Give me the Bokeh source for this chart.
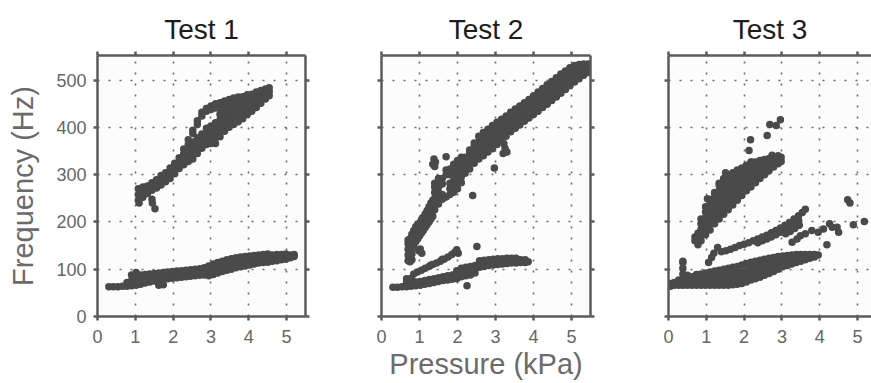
from bokeh.plotting import figure
from bokeh.layouts import row
from bokeh.models import LinearAxis, Range1d, FixedTicker
from bokeh.embed import file_html
from bokeh.resources import INLINE

# ---------------------------------------------------------------------------
# Measured frequency vs. pressure, three tests.
# Dense bands are stored column by column: one pressure value per column and
# the list of frequency samples recorded at that pressure.
# ---------------------------------------------------------------------------
titles = ["Test 1", "Test 2", "Test 3"]
x_ticks = [0, 1, 2, 3, 4, 5]
y_ticks = [0, 100, 200, 300, 400, 500]

# Test 1 - low branch
t1_low_px = [0.3, 0.42, 0.54, 0.66, 0.78, 0.9, 1.02, 1.14, 1.26, 1.38, 1.5, 1.62, 1.74, 1.86,
             1.98, 2.1, 2.22, 2.34, 2.46, 2.58, 2.7, 2.82, 2.94, 3.06, 3.18, 3.3, 3.42, 3.54,
             3.66, 3.78, 3.9, 4.02, 4.14, 4.26, 4.38, 4.5, 4.62, 4.74, 4.86, 4.98, 5.1, 5.2]
t1_low_py = [[63], [63], [63], [64], [64, 72], [65, 76, 88], [66, 76, 86, 93], [68, 78, 88],
             [71, 80, 89], [73, 82, 90], [75, 83, 91], [66, 77, 85, 92], [67, 79, 87, 93],
             [80, 88, 94], [81, 89, 95], [82, 90, 96], [83, 91, 97], [84, 92, 98], [85, 93, 99],
             [86, 94, 100], [87, 95, 101], [88, 96, 103], [86, 92, 100, 107], [89, 96, 104, 111],
             [92, 99, 107, 114], [95, 102, 110, 117], [98, 105, 113, 120], [100, 108, 116, 122],
             [103, 110, 118, 124], [105, 112, 120, 126], [107, 114, 122, 127], [109, 116, 123, 128],
             [111, 118, 125, 129], [113, 120, 126, 130], [114, 121, 128, 131], [115, 123, 129, 132],
             [117, 124, 130], [118, 126, 131], [120, 127, 131], [121, 128, 132], [124, 130], [127, 131]]

# Test 1 - high branch
t1_up_px = [1.08, 1.2, 1.32, 1.44, 1.56, 1.68, 1.8, 1.92, 2.04, 2.16, 2.28, 2.4, 2.52, 2.64, 2.76,
            2.88, 3.0, 3.12, 3.24, 3.36, 3.48, 3.6, 3.72, 3.84, 3.96, 4.08, 4.2, 4.32, 4.44, 4.54]
t1_up_py = [[246, 258, 270], [252, 263, 274], [260, 270, 276], [267, 276, 283], [272, 281, 289],
            [278, 288, 298], [285, 295, 304], [292, 303, 314], [302, 312, 324], [313, 323, 336],
            [321, 332, 344, 354], [328, 340, 352, 364, 374], [333, 345, 357, 369, 387, 394],
            [345, 356, 367, 378, 406, 414], [356, 367, 378, 386, 424, 432],
            [364, 376, 388, 398, 434, 440], [366, 378, 390, 403, 438, 445],
            [366, 378, 391, 404, 410, 441, 450], [380, 392, 404, 416, 428, 440, 452],
            [392, 404, 416, 428, 440, 452, 456], [400, 412, 424, 436, 448, 459],
            [406, 418, 430, 442, 454, 462], [412, 424, 436, 448, 460, 464],
            [418, 430, 442, 454, 465], [427, 439, 451, 463, 469], [434, 446, 458, 470],
            [442, 454, 466, 475], [451, 462, 473, 478], [460, 470, 481], [467, 476, 484]]

# Test 1 - isolated samples
t1_dot_x = [1.1, 1.45, 1.52, 1.44]
t1_dot_y = [240, 240, 228, 248]

# Test 2 - low branch
t2_low_px = [0.3, 0.42, 0.54, 0.66, 0.78, 0.9, 1.02, 1.14, 1.26, 1.38, 1.5, 1.62, 1.74, 1.86, 1.98,
             2.1, 2.22, 2.34, 2.46, 2.58, 2.7, 2.82, 2.94, 3.06, 3.18, 3.3, 3.42, 3.54, 3.66, 3.78, 3.86]
t2_low_py = [[62], [62], [63], [63, 72, 80], [64, 73, 81], [65, 73], [66, 74], [68, 76], [70, 78],
             [72, 80], [74, 82], [76, 84], [77, 86], [79, 88], [80, 89, 97], [84, 93, 102],
             [86, 95, 104], [88, 97, 106], [92, 101, 108], [104, 112, 118], [106, 113, 119],
             [108, 115, 120], [109, 116, 121], [110, 117, 122], [111, 118, 122], [112, 118, 123],
             [113, 119, 123], [113, 119, 123], [114, 120], [114, 120], [116]]

# Test 2 - thin intermediate branch
t2_br_x = [0.85, 0.95, 1.05, 1.15, 1.25, 1.3, 1.35, 1.45, 1.55, 1.6, 1.65, 1.75, 1.85, 1.93, 1.98, 2.02]
t2_br_y = [90, 94, 98, 102, 106, 109, 110, 113, 117, 121, 121, 126, 131, 136, 141, 134]

# Test 2 - rising curve into the high branch
t2_curve_px = [0.7, 0.75, 0.8, 0.85, 0.9, 0.95, 1.0, 1.05, 1.1, 1.15, 1.2, 1.25, 1.3, 1.35,
               1.4, 1.5, 1.6, 1.7, 1.8, 1.9, 2.0, 2.1]
t2_curve_py = [[118, 130, 142, 154, 162], [116, 128, 140, 152, 164], [120, 132, 144, 156, 168, 174],
               [150, 162, 174, 182], [158, 170, 182, 190], [164, 175, 186, 194],
               [170, 180, 190, 198], [176, 187, 198, 204], [182, 193, 204, 210],
               [188, 199, 210, 217], [194, 205, 216, 224], [200, 211, 222, 232],
               [206, 218, 230, 240], [212, 224, 236, 246],
               [226, 238, 250, 262, 274, 282], [238, 250, 262, 274, 286, 292], [248, 258, 280, 292],
               [253, 300, 310], [258, 270, 282, 300, 312], [263, 275, 287, 299, 311, 322],
               [270, 282, 294, 306, 318, 330], [283, 295, 307, 319, 331, 337]]

# Test 2 - high branch
t2_main_px = [2.2, 2.32, 2.44, 2.56, 2.68, 2.8, 2.92, 3.04, 3.16, 3.28, 3.4, 3.52, 3.64, 3.76,
              3.88, 4.0, 4.12, 4.24, 4.36, 4.48, 4.6, 4.72, 4.84, 4.96, 5.08, 5.2, 5.32, 5.44]
t2_main_py = [[303, 315, 327, 337], [312, 324, 336, 348, 352], [324, 336, 348, 360, 367],
              [333, 345, 357, 369, 381], [340, 352, 364, 376, 389], [348, 360, 372, 384, 396],
              [355, 367, 379, 391, 404], [364, 376, 388, 400, 411], [372, 384, 396, 408, 417],
              [381, 393, 405, 417, 424], [391, 403, 415, 427, 432], [398, 410, 422, 434, 439],
              [405, 417, 429, 441, 445], [413, 425, 437, 449, 452], [420, 432, 444, 456, 459],
              [427, 439, 451, 463, 467], [434, 446, 458, 470, 475], [442, 454, 466, 478, 482],
              [449, 461, 473, 485, 490], [457, 469, 481, 493, 497], [464, 476, 488, 500, 505],
              [472, 484, 496, 508, 513], [480, 492, 504, 516, 519], [488, 500, 512, 524, 526],
              [496, 508, 520, 531], [503, 515, 527, 533], [510, 522, 534], [516, 528, 534]]

# Test 2 - isolated samples
t2_dot_x = [0.98, 1.06, 1.02, 1.35, 1.38, 1.42, 1.4, 1.7, 2.4, 2.51, 2.25, 2.97, 3.2, 3.25, 3.3, 3.22]
t2_dot_y = [139, 134, 143, 322, 333, 327, 317, 338, 256, 148, 65, 314, 345, 356, 348, 366]

# Test 3 - low branch
t3_low_px = [0.05, 0.15, 0.27, 0.38, 0.5, 0.62, 0.74, 0.86, 0.98, 1.1, 1.22, 1.34, 1.46, 1.58, 1.7,
             1.82, 1.94, 2.06, 2.18, 2.3, 2.42, 2.54, 2.66, 2.78, 2.9, 3.02, 3.14, 3.26, 3.38, 3.5,
             3.62, 3.74, 3.86, 3.96]
t3_low_py = [[64, 70], [66, 72], [66, 77], [66, 78, 90, 102, 114, 117], [66, 78, 87], [66, 76, 84],
             [66, 77, 89], [66, 78, 90], [66, 77, 88, 92], [66, 77, 88, 94], [66, 77, 88, 96],
             [66, 77, 88, 98], [66, 77, 88, 100], [66, 78, 90, 102], [67, 79, 91, 104],
             [68, 80, 92, 106], [70, 82, 94, 109], [73, 85, 97, 112], [77, 89, 101, 115],
             [80, 92, 104, 117], [83, 95, 107, 119], [87, 99, 111, 121], [91, 103, 115, 123],
             [95, 107, 119, 125], [100, 112, 127], [105, 117, 128], [108, 119, 129], [111, 122, 130],
             [114, 124, 131], [117, 126, 131], [120, 128, 131], [123, 131], [126, 131], [130]]

# Test 3 - middle branch
t3_mid_x = [1.06, 1.14, 1.2, 1.3, 1.4, 1.52, 1.64, 1.76, 1.88, 2.0, 2.12, 2.24, 2.36, 2.48, 2.6,
            2.72, 2.84, 2.96, 3.08, 3.2, 3.32, 3.44, 3.54, 3.62,
            2.36, 2.48, 2.6, 2.72, 2.84, 2.96, 3.08, 3.2, 3.32, 3.44, 3.1, 3.22, 3.34, 3.46]
t3_mid_y = [114, 125, 134, 146, 137, 139, 142, 146, 150, 153, 156, 160, 164, 168, 172,
            177, 182, 187, 193, 199, 206, 213, 220, 227,
            156, 160, 164, 168, 173, 178, 184, 190, 196, 203, 175, 180, 186, 193]

# Test 3 - high branch
t3_up_px = [0.7, 0.78, 0.86, 0.98, 1.1, 1.22, 1.34, 1.46, 1.58, 1.7, 1.82, 1.94, 2.06, 2.18,
            2.3, 2.42, 2.54, 2.66, 2.78, 2.9, 2.98]
t3_up_py = [[160, 168], [152, 164, 176], [160, 172, 184, 196, 206], [173, 185, 197, 209, 221, 232],
            [183, 195, 207, 219, 231, 243, 247], [196, 208, 220, 232, 244, 256, 262],
            [206, 218, 230, 242, 254, 266, 278, 282], [216, 228, 240, 252, 264, 276, 288, 292],
            [226, 238, 250, 262, 274, 286, 297], [236, 248, 260, 272, 284, 296, 304],
            [246, 258, 270, 282, 294, 306, 310], [256, 268, 280, 292, 304, 314],
            [266, 278, 290, 302, 314, 320], [274, 286, 298, 310, 322, 327],
            [283, 295, 307, 319, 327], [292, 304, 316, 328, 330], [300, 312, 324, 332],
            [308, 320, 332, 334], [316, 328, 337], [323, 335, 340], [328, 337]]

# Test 3 - isolated samples
t3_dot_x = [3.49, 3.62, 3.79, 3.96, 4.1, 4.26, 4.33, 4.46, 4.5, 4.19, 4.74, 4.8, 4.89, 5.18,
            3.27, 3.4, 2.17, 2.13, 2.2, 2.61, 2.68, 2.85, 2.96, 2.74, 1.51, 1.03]
t3_dot_y = [171, 175, 182, 178, 185, 196, 189, 189, 178, 152, 247, 240, 194, 201,
            157, 164, 374, 351, 327, 383, 406, 404, 416, 341, 304, 249]


def expand(px, py):
    """Flatten column-wise samples into x / y lists."""
    assert len(px) == len(py)
    xs, ys = [], []
    for x, col in zip(px, py):
        xs += [x] * len(col)
        ys += col
    return xs, ys


def gather(columns, singles):
    xs, ys = [], []
    for px, py in columns:
        a, b = expand(px, py)
        xs += a
        ys += b
    for sx, sy in singles:
        assert len(sx) == len(sy)
        xs += sx
        ys += sy
    return xs, ys


t1_x, t1_y = gather([(t1_low_px, t1_low_py), (t1_up_px, t1_up_py)], [(t1_dot_x, t1_dot_y)])
t2_x, t2_y = gather([(t2_low_px, t2_low_py), (t2_curve_px, t2_curve_py), (t2_main_px, t2_main_py)],
                    [(t2_br_x, t2_br_y), (t2_dot_x, t2_dot_y)])
t3_x, t3_y = gather([(t3_low_px, t3_low_py), (t3_up_px, t3_up_py)],
                    [(t3_mid_x, t3_mid_y), (t3_dot_x, t3_dot_y)])

FONT = "Liberation Sans"
FRAME = "#5b5b5b"
DOT = "#4a4a4a"


def style_axis(ax, ticks, labels):
    ax.ticker = FixedTicker(ticks=ticks)
    ax.axis_line_color = FRAME
    ax.axis_line_width = 2.5
    ax.major_tick_line_color = FRAME
    ax.major_tick_line_width = 2.5
    ax.major_tick_out = 4
    ax.major_tick_in = 0
    ax.minor_tick_line_color = None
    ax.major_label_text_font = FONT
    if labels:
        ax.major_label_text_color = "#666666"
        ax.major_label_text_font_size = "18px"
        ax.major_label_standoff = 9
    else:
        # tick marks only
        ax.major_label_text_color = None
        ax.major_label_text_font_size = "1px"
        ax.major_label_standoff = 0
    ax.axis_label_text_font = FONT
    ax.axis_label_text_font_style = "normal"
    ax.axis_label_text_font_size = "29px"
    ax.axis_label_text_color = "#6b6b6b"


def panel(title, xs, ys, width, left, right, x_end, y_labels, right_axis):
    p = figure(width=width, height=383, x_range=Range1d(0, x_end), y_range=Range1d(0, 552),
               output_backend="svg", toolbar_location=None, title=title,
               min_border_left=left, min_border_right=right, min_border_top=55, min_border_bottom=67,
               background_fill_color="#fcfcfc", border_fill_color="white", outline_line_color=None)
    p.title.align = "center"
    p.title.text_font = FONT
    p.title.text_font_size = "28px"
    p.title.text_font_style = "normal"
    p.title.text_color = "#1c1c1c"
    p.title.standoff = 13

    bottom = p.xaxis[0]
    leftax = p.yaxis[0]
    style_axis(bottom, x_ticks, True)
    style_axis(leftax, y_ticks, y_labels)
    leftax.major_label_standoff = 7

    top = LinearAxis()
    style_axis(top, x_ticks, False)
    p.add_layout(top, "above")
    if right_axis:
        rgt = LinearAxis()
        style_axis(rgt, y_ticks, False)
        p.add_layout(rgt, "right")

    p.xgrid.ticker = FixedTicker(ticks=[1, 2, 3, 4, 5])
    p.ygrid.ticker = FixedTicker(ticks=[100, 200, 300, 400, 500])
    for g in (p.xgrid, p.ygrid):
        g.grid_line_color = "#6a6a6a"
        g.grid_line_width = 1.6
        g.grid_line_dash = "2 9"

    p.scatter(xs, ys, size=7.5, fill_color=DOT, line_color=None)
    return p, bottom, leftax


p1, b1, l1 = panel(titles[0], t1_x, t1_y, 340, 97, 35, 5.5, True, True)
l1.axis_label = "Frequency (Hz)"
l1.axis_label_standoff = 14

p2, b2, l2 = panel(titles[1], t2_x, t2_y, 288, 41, 38, 5.5, False, True)
b2.axis_label = "Pressure (kPa)"
b2.axis_label_standoff = 2

p3, b3, l3 = panel(titles[2], t3_x, t3_y, 243, 40, 0, 5.37, False, False)

layout = row(p1, p2, p3)
open("out.html", "w").write(file_html(layout, INLINE))
